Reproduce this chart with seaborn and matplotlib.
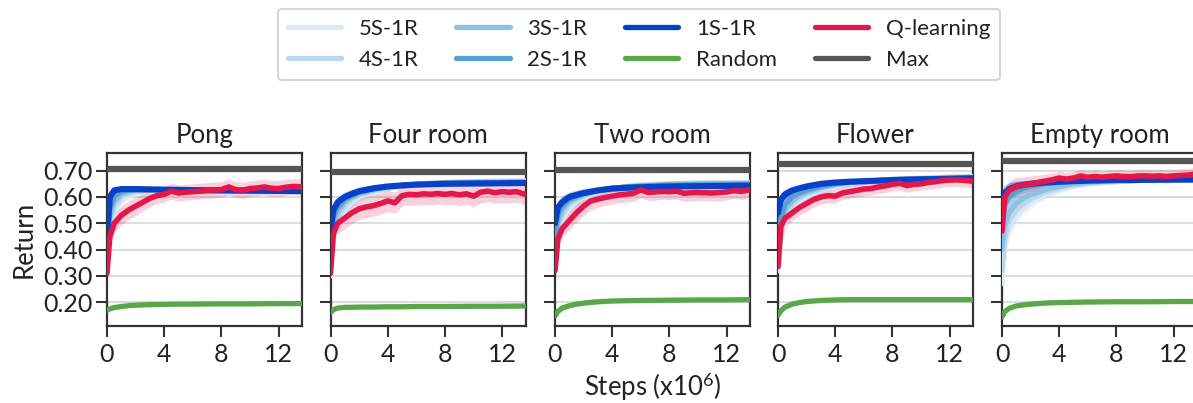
import numpy as np
import pandas as pd
import matplotlib
matplotlib.use("Agg")
import matplotlib.pyplot as plt
from matplotlib.lines import Line2D
import seaborn as sns

# ---------------- data ----------------
PANELS = ["Pong", "Four room", "Two room", "Flower", "Empty room"]
SR_LABELS = ["5S-1R", "4S-1R", "3S-1R", "2S-1R", "1S-1R"]

STEPS = [0, 0.2, 0.5, 1.0, 1.5, 2.0, 3.0, 4.0, 5.0, 6.0, 8.0, 10.0, 12.0, 13.6]
STEPS_Q = [0, 0.2, 0.5, 1.0, 1.5, 2.0, 2.5, 3.0, 3.5, 4.0, 4.5, 5.0, 5.5, 6.0, 6.5,
           7.0, 7.5, 8.0, 8.5, 9.0, 9.5, 10.0, 10.5, 11.0, 11.5, 12.0, 12.5, 13.0, 13.6]

MAX_RETURN = [0.705, 0.694, 0.703, 0.726, 0.738]

# Pong
PONG_1S = [0.45, 0.60, 0.625, 0.63, 0.63, 0.63, 0.629, 0.628, 0.627, 0.626, 0.625, 0.624, 0.623, 0.622]
PONG_2S = [0.43, 0.55, 0.60, 0.62, 0.625, 0.627, 0.627, 0.627, 0.626, 0.626, 0.625, 0.624, 0.624, 0.623]
PONG_3S = [0.41, 0.52, 0.58, 0.61, 0.62, 0.624, 0.626, 0.627, 0.627, 0.627, 0.626, 0.625, 0.625, 0.625]
PONG_4S = [0.39, 0.50, 0.56, 0.60, 0.613, 0.62, 0.625, 0.627, 0.628, 0.628, 0.627, 0.626, 0.626, 0.626]
PONG_5S = [0.37, 0.48, 0.54, 0.585, 0.605, 0.615, 0.622, 0.626, 0.628, 0.628, 0.628, 0.627, 0.627, 0.627]
PONG_SR_BAND = [0.05, 0.04, 0.03, 0.02, 0.015, 0.012, 0.01, 0.01, 0.01, 0.01, 0.01, 0.01, 0.01, 0.01]
PONG_RANDOM = [0.17, 0.175, 0.18, 0.184, 0.187, 0.189, 0.191, 0.192, 0.193, 0.193, 0.194, 0.194, 0.195, 0.195]
PONG_Q = [0.31, 0.45, 0.50, 0.53, 0.55, 0.565, 0.58, 0.595, 0.605, 0.61, 0.622, 0.615, 0.618, 0.62, 0.622,
          0.625, 0.627, 0.628, 0.638, 0.628, 0.626, 0.632, 0.634, 0.638, 0.633, 0.632, 0.637, 0.640, 0.638]
PONG_Q_BAND = [0.02, 0.03, 0.035, 0.035, 0.035, 0.035, 0.033, 0.032, 0.03, 0.03, 0.03, 0.03, 0.03, 0.03, 0.03,
               0.03, 0.03, 0.03, 0.03, 0.03, 0.03, 0.03, 0.03, 0.03, 0.03, 0.03, 0.03, 0.03, 0.03]

# Four room
FOUR_1S = [0.47, 0.55, 0.58, 0.60, 0.612, 0.622, 0.633, 0.64, 0.644, 0.647, 0.65, 0.651, 0.652, 0.653]
FOUR_2S = [0.42, 0.52, 0.56, 0.59, 0.605, 0.617, 0.63, 0.638, 0.644, 0.648, 0.652, 0.654, 0.655, 0.656]
FOUR_3S = [0.38, 0.49, 0.54, 0.58, 0.598, 0.612, 0.627, 0.637, 0.644, 0.649, 0.654, 0.656, 0.657, 0.658]
FOUR_4S = [0.34, 0.46, 0.52, 0.565, 0.59, 0.606, 0.624, 0.636, 0.644, 0.65, 0.655, 0.658, 0.659, 0.66]
FOUR_5S = [0.30, 0.43, 0.50, 0.55, 0.58, 0.60, 0.62, 0.634, 0.643, 0.65, 0.656, 0.659, 0.661, 0.662]
FOUR_SR_BAND = [0.06, 0.05, 0.04, 0.03, 0.025, 0.02, 0.015, 0.012, 0.01, 0.01, 0.01, 0.01, 0.01, 0.01]
FOUR_RANDOM = [0.16, 0.172, 0.178, 0.181, 0.181, 0.182, 0.182, 0.183, 0.183, 0.184, 0.184, 0.185, 0.185, 0.186]
FOUR_Q = [0.31, 0.46, 0.50, 0.52, 0.54, 0.555, 0.562, 0.567, 0.575, 0.585, 0.578, 0.605, 0.61, 0.608, 0.612,
          0.61, 0.613, 0.61, 0.613, 0.608, 0.612, 0.603, 0.618, 0.622, 0.616, 0.62, 0.618, 0.62, 0.61]
FOUR_Q_BAND = [0.02, 0.035, 0.04, 0.04, 0.04, 0.04, 0.04, 0.04, 0.04, 0.04, 0.04, 0.04, 0.04, 0.04, 0.04,
               0.04, 0.04, 0.04, 0.04, 0.04, 0.04, 0.04, 0.04, 0.04, 0.04, 0.04, 0.04, 0.04, 0.04]

# Two room
TWO_1S = [0.50, 0.56, 0.58, 0.60, 0.608, 0.615, 0.625, 0.632, 0.635, 0.637, 0.64, 0.641, 0.642, 0.643]
TWO_2S = [0.44, 0.53, 0.565, 0.59, 0.602, 0.612, 0.625, 0.633, 0.638, 0.641, 0.645, 0.647, 0.648, 0.649]
TWO_3S = [0.40, 0.50, 0.55, 0.58, 0.597, 0.608, 0.623, 0.633, 0.639, 0.643, 0.648, 0.65, 0.651, 0.652]
TWO_4S = [0.36, 0.47, 0.53, 0.57, 0.59, 0.603, 0.62, 0.632, 0.64, 0.645, 0.65, 0.652, 0.653, 0.654]
TWO_5S = [0.33, 0.44, 0.51, 0.56, 0.583, 0.598, 0.617, 0.631, 0.64, 0.646, 0.651, 0.654, 0.655, 0.656]
TWO_SR_BAND = [0.06, 0.05, 0.04, 0.03, 0.025, 0.02, 0.015, 0.012, 0.011, 0.011, 0.011, 0.011, 0.011, 0.011]
TWO_RANDOM = [0.148, 0.165, 0.178, 0.187, 0.193, 0.197, 0.202, 0.205, 0.206, 0.207, 0.208, 0.209, 0.209, 0.21]
TWO_Q = [0.32, 0.44, 0.48, 0.51, 0.54, 0.565, 0.585, 0.592, 0.598, 0.603, 0.608, 0.611, 0.614, 0.627, 0.617,
         0.619, 0.621, 0.62, 0.622, 0.614, 0.616, 0.617, 0.616, 0.615, 0.617, 0.619, 0.624, 0.621, 0.627]
TWO_Q_BAND = [0.02, 0.03, 0.035, 0.035, 0.035, 0.035, 0.033, 0.032, 0.03, 0.03, 0.03, 0.03, 0.03, 0.03, 0.03,
              0.03, 0.03, 0.03, 0.03, 0.03, 0.03, 0.03, 0.03, 0.03, 0.03, 0.03, 0.03, 0.03, 0.03]

# Flower
FLOWER_1S = [0.54, 0.59, 0.61, 0.625, 0.633, 0.64, 0.65, 0.655, 0.658, 0.66, 0.664, 0.667, 0.669, 0.671]
FLOWER_2S = [0.42, 0.52, 0.57, 0.60, 0.615, 0.625, 0.64, 0.65, 0.656, 0.66, 0.666, 0.669, 0.671, 0.673]
FLOWER_3S = [0.38, 0.49, 0.55, 0.585, 0.605, 0.618, 0.635, 0.647, 0.654, 0.66, 0.667, 0.67, 0.673, 0.675]
FLOWER_4S = [0.35, 0.46, 0.53, 0.57, 0.595, 0.61, 0.63, 0.644, 0.653, 0.659, 0.667, 0.671, 0.674, 0.676]
FLOWER_5S = [0.32, 0.43, 0.51, 0.56, 0.585, 0.603, 0.625, 0.64, 0.651, 0.658, 0.667, 0.672, 0.675, 0.677]
FLOWER_SR_BAND = [0.06, 0.05, 0.04, 0.03, 0.025, 0.02, 0.015, 0.012, 0.011, 0.011, 0.011, 0.011, 0.011, 0.011]
FLOWER_RANDOM = [0.15, 0.168, 0.182, 0.193, 0.199, 0.203, 0.207, 0.209, 0.21, 0.21, 0.21, 0.21, 0.21, 0.21]
FLOWER_Q = [0.335, 0.49, 0.52, 0.54, 0.56, 0.575, 0.59, 0.60, 0.605, 0.603, 0.615, 0.62, 0.625, 0.63, 0.632,
            0.638, 0.642, 0.648, 0.652, 0.643, 0.648, 0.65, 0.655, 0.658, 0.662, 0.664, 0.665, 0.663, 0.66]
FLOWER_Q_BAND = [0.02, 0.03, 0.03, 0.03, 0.03, 0.03, 0.028, 0.027, 0.026, 0.026, 0.025, 0.025, 0.025, 0.025, 0.025,
                 0.025, 0.025, 0.025, 0.025, 0.025, 0.025, 0.025, 0.025, 0.025, 0.025, 0.025, 0.025, 0.025, 0.025]

# Empty room
EMPTY_1S = [0.59, 0.615, 0.63, 0.64, 0.646, 0.65, 0.655, 0.658, 0.66, 0.662, 0.664, 0.665, 0.666, 0.666]
EMPTY_2S = [0.50, 0.57, 0.60, 0.62, 0.632, 0.64, 0.65, 0.655, 0.659, 0.662, 0.665, 0.667, 0.668, 0.668]
EMPTY_3S = [0.40, 0.49, 0.54, 0.575, 0.595, 0.608, 0.627, 0.64, 0.649, 0.655, 0.662, 0.666, 0.668, 0.669]
EMPTY_4S = [0.32, 0.44, 0.51, 0.55, 0.575, 0.592, 0.617, 0.633, 0.645, 0.652, 0.661, 0.666, 0.669, 0.67]
EMPTY_5S = [0.27, 0.41, 0.49, 0.535, 0.562, 0.582, 0.61, 0.628, 0.641, 0.65, 0.66, 0.666, 0.669, 0.671]
EMPTY_SR_BAND = [0.08, 0.06, 0.05, 0.04, 0.03, 0.025, 0.02, 0.015, 0.012, 0.011, 0.011, 0.011, 0.011, 0.011]
EMPTY_RANDOM = [0.145, 0.165, 0.177, 0.186, 0.19, 0.193, 0.197, 0.199, 0.2, 0.201, 0.202, 0.202, 0.203, 0.203]
EMPTY_Q = [0.47, 0.60, 0.625, 0.64, 0.645, 0.65, 0.655, 0.66, 0.665, 0.672, 0.668, 0.672, 0.68, 0.675, 0.678,
           0.675, 0.678, 0.68, 0.678, 0.677, 0.68, 0.68, 0.679, 0.68, 0.678, 0.68, 0.682, 0.683, 0.688]
EMPTY_Q_BAND = [0.03, 0.035, 0.035, 0.035, 0.03, 0.03, 0.028, 0.027, 0.026, 0.025, 0.025, 0.025, 0.025, 0.025, 0.025,
                0.025, 0.025, 0.025, 0.025, 0.025, 0.025, 0.025, 0.025, 0.025, 0.025, 0.025, 0.025, 0.025, 0.025]

SR_CURVES = [
    [PONG_5S, PONG_4S, PONG_3S, PONG_2S, PONG_1S],
    [FOUR_5S, FOUR_4S, FOUR_3S, FOUR_2S, FOUR_1S],
    [TWO_5S, TWO_4S, TWO_3S, TWO_2S, TWO_1S],
    [FLOWER_5S, FLOWER_4S, FLOWER_3S, FLOWER_2S, FLOWER_1S],
    [EMPTY_5S, EMPTY_4S, EMPTY_3S, EMPTY_2S, EMPTY_1S],
]
SR_BANDS = [PONG_SR_BAND, FOUR_SR_BAND, TWO_SR_BAND, FLOWER_SR_BAND, EMPTY_SR_BAND]
RANDOM_CURVES = [PONG_RANDOM, FOUR_RANDOM, TWO_RANDOM, FLOWER_RANDOM, EMPTY_RANDOM]
Q_CURVES = [PONG_Q, FOUR_Q, TWO_Q, FLOWER_Q, EMPTY_Q]
Q_BANDS = [PONG_Q_BAND, FOUR_Q_BAND, TWO_Q_BAND, FLOWER_Q_BAND, EMPTY_Q_BAND]

Y_TICKS = [0.20, 0.30, 0.40, 0.50, 0.60, 0.70]
X_TICKS = [0, 4, 8, 12]

# ---------------- style ----------------
SR_COLORS = {"5S-1R": "#dbe9f6", "4S-1R": "#bdd7ec", "3S-1R": "#8fc1e2",
             "2S-1R": "#5a9fd2", "1S-1R": "#0641c8"}
C_RANDOM = "#5aa64b"
C_Q = "#e3174b"
C_MAX = "#555555"
C_SPINE = "#333333"
C_TEXT = "#222222"

sns.set_theme(style="white")
plt.rcParams["font.family"] = ["Lato", "DejaVu Sans"]
plt.rcParams["mathtext.fontset"] = "custom"
plt.rcParams["mathtext.rm"] = "Lato"
plt.rcParams["mathtext.it"] = "Lato:italic"
plt.rcParams["mathtext.bf"] = "Lato:bold"

W, H = 1193, 403
fig = plt.figure(figsize=(W / 100, H / 100), dpi=100)

lefts = [107, 330.5, 555, 778, 1002]
ax_w, ax_top, ax_bot = 195, 153, 326

for i, name in enumerate(PANELS):
    ax = fig.add_axes([lefts[i] / W, 1 - ax_bot / H, ax_w / W, (ax_bot - ax_top) / H])
    steps = np.array(STEPS)
    # bands
    for lab, vals in zip(SR_LABELS, SR_CURVES[i]):
        v = np.array(vals)
        b = np.array(SR_BANDS[i]) if lab != "1S-1R" else np.array(SR_BANDS[i]) * 0.5
        ax.fill_between(steps, v - b, v + b, color=SR_COLORS[lab], alpha=0.35, lw=0, zorder=2)
    qv = np.array(Q_CURVES[i])
    qb = np.array(Q_BANDS[i])
    ax.fill_between(STEPS_Q, qv - qb, qv + qb, color=C_Q, alpha=0.2, lw=0, zorder=2)
    rv = np.array(RANDOM_CURVES[i])
    ax.fill_between(steps, rv - 0.004, rv + 0.004, color=C_RANDOM, alpha=0.25, lw=0, zorder=2)

    # S-R lines through seaborn
    df = pd.DataFrame({
        "step": np.tile(steps, len(SR_LABELS)),
        "ret": np.concatenate([np.array(c) for c in SR_CURVES[i]]),
        "method": np.repeat(SR_LABELS, len(steps)),
    })
    sns.lineplot(data=df, x="step", y="ret", hue="method", hue_order=SR_LABELS,
                 palette=SR_COLORS, lw=3.6, legend=False, ax=ax, errorbar=None, zorder=3)
    blue = matplotlib.colors.to_rgba(SR_COLORS["1S-1R"])
    for ln in ax.lines:
        if matplotlib.colors.to_rgba(ln.get_color()) == blue:
            ln.set_linewidth(4.4)
    sns.lineplot(x=steps, y=rv, color=C_RANDOM, lw=3.8, ax=ax, zorder=4)
    sns.lineplot(x=STEPS_Q, y=qv, color=C_Q, lw=4.0, ax=ax, zorder=5)
    ax.axhline(MAX_RETURN[i], color=C_MAX, lw=4.5, zorder=6)

    ax.set_xlim(0, 13.63)
    ax.set_ylim(0.11, 0.767)
    ax.set_yticks(Y_TICKS)
    ax.set_xticks(X_TICKS)
    ax.set_xticklabels([str(t) for t in X_TICKS])
    if i == 0:
        ax.set_yticklabels([f"{t:.2f}" for t in Y_TICKS])
        ax.set_ylabel("Return", fontsize=18.5, labelpad=5, color=C_TEXT)
    else:
        ax.set_yticklabels([])
        ax.set_ylabel("")
    if i == 2:
        ax.set_xlabel("Steps (x10$^{6}$)", fontsize=18.5, labelpad=4, color=C_TEXT)
    else:
        ax.set_xlabel("")
    ax.set_title(name, fontsize=18.5, pad=7, color=C_TEXT)
    ax.yaxis.grid(True, color="#d8dddd", lw=1.5, zorder=0)
    ax.set_axisbelow(True)
    ax.tick_params(axis="both", which="major", direction="out", length=8, width=1.5,
                   color=C_SPINE, labelsize=18, labelcolor=C_TEXT, left=True, bottom=True)
    ax.tick_params(axis="y", pad=2)
    ax.tick_params(axis="x", pad=4)
    for sp in ax.spines.values():
        sp.set_color(C_SPINE)
        sp.set_linewidth(1.6)
        sp.set_visible(True)

handles = []
labels = []
order = ["5S-1R", "4S-1R", "3S-1R", "2S-1R", "1S-1R", "Random", "Q-learning", "Max"]
cols = dict(SR_COLORS)
cols.update({"Random": C_RANDOM, "Q-learning": C_Q, "Max": C_MAX})
for lab in order:
    handles.append(Line2D([0], [0], color=cols[lab], lw=3.8, solid_capstyle="round"))
    labels.append(lab)
leg = fig.legend(handles, labels, loc="upper center", bbox_to_anchor=(639 / W, 1 - 9 / H),
                 ncol=4, fontsize=16, frameon=True, handlelength=2.4, handletextpad=0.8,
                 columnspacing=1.7, labelspacing=0.5, borderpad=0.45, borderaxespad=0,
                 fancybox=True)
leg.get_frame().set_edgecolor("#cccccc")
leg.get_frame().set_linewidth(1.5)
for t in leg.get_texts():
    t.set_color(C_TEXT)

fig.savefig("out.png", dpi=100)
